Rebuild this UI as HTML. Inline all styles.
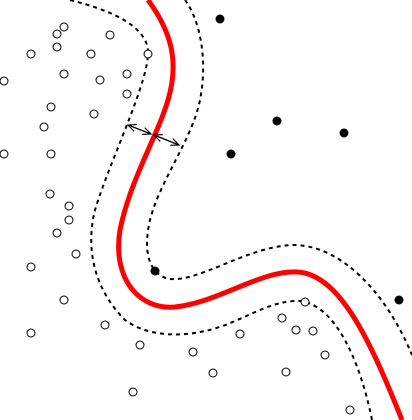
<!DOCTYPE html>
<html><head><style>html,body{margin:0;padding:0;background:#fff}svg{display:block}</style></head>
<body>
<svg width="412" height="420" viewBox="0 0 412 420">
<defs>
<marker id="ah" viewBox="0 0 10 10" refX="9" refY="5" markerWidth="7" markerHeight="7" orient="auto-start-reverse">
<path d="M0,1 L9,5 L0,9" fill="none" stroke="#000" stroke-width="1.3"/>
</marker>
</defs>
<path d="M70,0 C110,10 145,25 148,50 C150,80 110,160 95,210 C85,250 95,290 125,320 C145,335 175,337 200,332 C240,325 265,300 300,301 C335,305 360,360 372,420" fill="none" stroke="#000" stroke-width="2" stroke-dasharray="4,4"/>
<path d="M185,0 C200,20 208,60 200,100 C192,140 160,180 150,220 C143,250 148,275 170,279 C200,282 250,245 295,245 C340,246 385,290 412,355" fill="none" stroke="#000" stroke-width="2" stroke-dasharray="4,4"/>
<path d="M148,0 C170,30 180,60 168,100 C158,135 130,180 120,230 C112,280 140,310 175,307 C220,302 260,270 298,272 C340,275 370,340 402,420" fill="none" stroke="#f00" stroke-width="5"/>
<line x1="128" y1="125" x2="151" y2="134" stroke="#000" stroke-width="1.3" marker-start="url(#ah)" marker-end="url(#ah)"/>
<line x1="154" y1="135" x2="179" y2="145" stroke="#000" stroke-width="1.3" marker-start="url(#ah)" marker-end="url(#ah)"/>
<g id="pts"></g>
</svg>
<script>
const openX=[64,57,110,57,31,91,148,64,100,127,4,127,51,94,44,4,51,50,69,69,57,76,31,64,105,31,140,193,240,305,282,296,313,325,213,286,133,350];
const openY=[27,34,35,47,54,54,54,74,80,74,81,94,107,114,127,154,154,194,206,220,233,254,267,300,325,333,345,352,334,302,318,330,331,355,373,372,392,410];
const filledX=[220,277,344,231,155,399];
const filledY=[19,121,133,154,271,300];
const g=document.getElementById('pts');
const ns='http://www.w3.org/2000/svg';
for(let i=0;i<openX.length;i++){
 const c=document.createElementNS(ns,'circle');
 c.setAttribute('cx',openX[i]);c.setAttribute('cy',openY[i]);c.setAttribute('r',4);
 c.setAttribute('fill','#fff');c.setAttribute('stroke','#000');c.setAttribute('stroke-width',1);
 
 
 g.appendChild(c);
}
for(let i=0;i<filledX.length;i++){
 const c=document.createElementNS(ns,'circle');
 c.setAttribute('cx',filledX[i]);c.setAttribute('cy',filledY[i]);c.setAttribute('r',4.5);
 c.setAttribute('fill','#000');
 
 
 g.appendChild(c);
}
</script>
</body></html>
